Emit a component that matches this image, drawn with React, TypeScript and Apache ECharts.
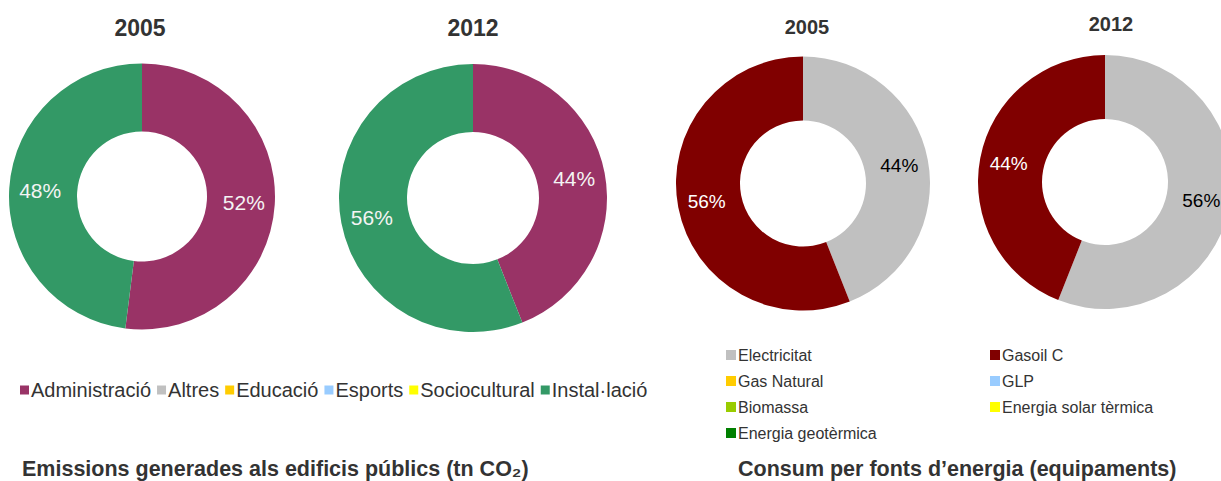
import React, { useEffect, useRef } from "react";
import * as echarts from "echarts";

const leftNames = ["Administració", "Altres", "Educació", "Esports", "Sociocultural", "Instal·lació"];
const leftColors = ["#993366", "#C0C0C0", "#FFCC00", "#99CCFF", "#FFFF00", "#339966"];
const left2005 = [52, 0, 0, 0, 0, 48];
const left2012 = [44, 0, 0, 0, 0, 56];

const rightNames = ["Electricitat", "Gasoil C", "Gas Natural", "GLP", "Biomassa", "Energia solar tèrmica", "Energia geotèrmica"];
const rightColors = ["#C0C0C0", "#800000", "#FFCC00", "#99CCFF", "#99CC00", "#FFFF00", "#008000"];
const right2005 = [44, 56, 0, 0, 0, 0, 0];
const right2012 = [56, 44, 0, 0, 0, 0, 0];
const rightLabelColors = ["#000000", "#ffffff", "#000", "#000", "#000", "#000", "#000"];

const yearLabels = ["2005", "2012"];
const leftCaption = "Emissions generades als edificis públics (tn CO₂)";
const rightCaption = "Consum per fonts d’energia (equipaments)";

const SANS = "'Liberation Sans', Arial, sans-serif";

function buildData(names: string[], values: number[], colors: string[], labelColors: string[] | null, fontSize: number) {
  return names.map((n, i) => ({
    name: n,
    value: values[i],
    itemStyle: { color: colors[i] },
    label: values[i] > 0
      ? { show: true, color: labelColors ? labelColors[i] : "#f4f4f4", fontSize, fontFamily: SANS }
      : { show: false },
  }));
}

export default function App() {
  const ref = useRef<HTMLDivElement>(null);
  useEffect(() => {
    document.body.style.margin = "0";
    if (!ref.current) return;
    const chart = echarts.init(ref.current, null, { renderer: "svg" });
    const pieBase = {
      type: "pie",
      startAngle: 90,
      clockwise: true,
      avoidLabelOverlap: false,
      labelLine: { show: false },
      emphasis: { disabled: true },
      silent: true,
      label: { position: "inside", formatter: "{c}%" },
    };
    const titleStyle = (size: number) => ({ fontFamily: SANS, fontSize: size, fontWeight: "bold", color: "#333333" });
    chart.setOption({
      animation: false,
      backgroundColor: "#ffffff",
      title: [
        { text: yearLabels[0], left: 135, top: 11, textAlign: "center", textStyle: titleStyle(23) },
        { text: yearLabels[1], left: 468, top: 11, textAlign: "center", textStyle: titleStyle(23) },
        { text: yearLabels[0], left: 802, top: 12, textAlign: "center", textStyle: titleStyle(20) },
        { text: yearLabels[1], left: 1106, top: 9, textAlign: "center", textStyle: titleStyle(20) },
        { text: leftCaption, left: 17, top: 453, textStyle: titleStyle(21.5) },
        { text: rightCaption, left: 733, top: 453, textStyle: titleStyle(21.5) },
      ],
      legend: [
        {
          data: leftNames, orient: "horizontal", left: 15, top: 375, icon: "rect", itemWidth: 9, itemHeight: 9, itemGap: 6,
          selectedMode: false, textStyle: { fontFamily: SANS, fontSize: 20, color: "#333333", padding: [0, 0, 0, -3] },
        },
        {
          data: [rightNames[0], rightNames[2], rightNames[4], rightNames[6]], orient: "vertical", left: 721, top: 342, icon: "rect",
          itemWidth: 10, itemHeight: 10, itemGap: 10, selectedMode: false,
          textStyle: { fontFamily: SANS, fontSize: 16, color: "#333333", padding: [0, 0, 0, -3] },
        },
        {
          data: [rightNames[1], rightNames[3], rightNames[5]], orient: "vertical", left: 985, top: 342, icon: "rect",
          itemWidth: 10, itemHeight: 10, itemGap: 10, selectedMode: false,
          textStyle: { fontFamily: SANS, fontSize: 16, color: "#333333", padding: [0, 0, 0, -3] },
        },
      ],
      series: [
        { ...pieBase, name: "E2005", center: [142, 196.5], radius: [65, 133], data: buildData(leftNames, left2005, leftColors, null, 21) },
        { ...pieBase, name: "E2012", center: [473, 198], radius: [66, 134], data: buildData(leftNames, left2012, leftColors, null, 21) },
        { ...pieBase, name: "C2005", center: [803, 183.5], radius: [63, 127], data: buildData(rightNames, right2005, rightColors, rightLabelColors, 19) },
        { ...pieBase, name: "C2012", center: [1105, 182], radius: [63, 127], data: buildData(rightNames, right2012, rightColors, rightLabelColors, 19) },
      ],
    });
    return () => chart.dispose();
  }, []);
  return <div ref={ref} style={{ width: 1221, height: 481 }} />;
}
